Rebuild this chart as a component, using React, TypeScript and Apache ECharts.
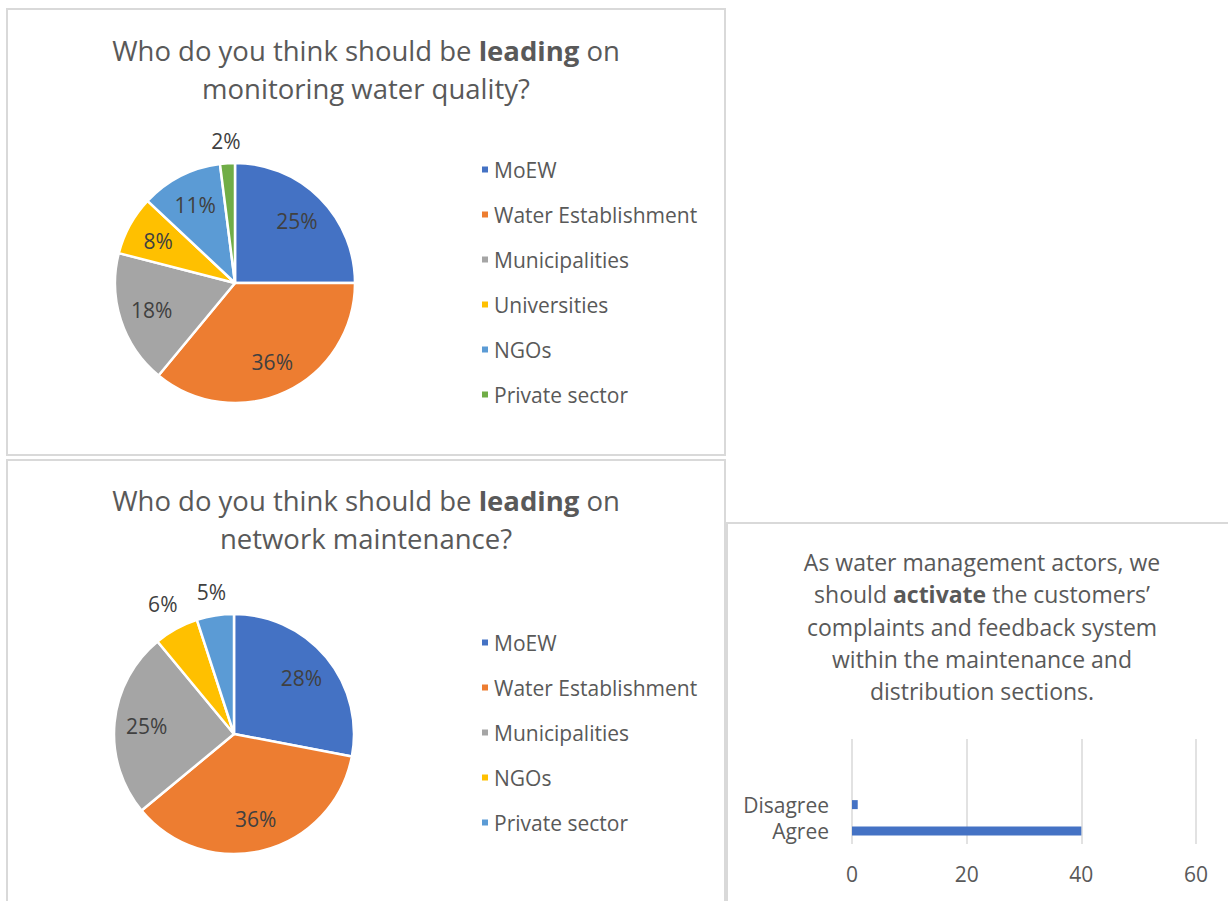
import React, { useEffect, useRef } from "react";
import * as echarts from "echarts";

const FONT = "'Open Sans', 'Noto Sans', sans-serif";
const TEXT = "#595959";
const LABEL = "#404040";

// Chart 1: leading on monitoring water quality
const qualityTitle = "Who do you think should be {b|leading} on\nmonitoring water quality?";
const qualityNames = ["MoEW", "Water Establishment", "Municipalities", "Universities", "NGOs", "Private sector"];
const qualityValues = [25, 36, 18, 8, 11, 2];
const qualityColors = ["#4472C4", "#ED7D31", "#A5A5A5", "#FFC000", "#5B9BD5", "#70AD47"];

// Chart 2: leading on network maintenance
const maintenanceTitle = "Who do you think should be {b|leading} on\nnetwork maintenance?";
const maintenanceNames = ["MoEW", "Water Establishment", "Municipalities", "NGOs", "Private sector"];
const maintenanceValues = [28, 36, 25, 6, 5];
const maintenanceColors = ["#4472C4", "#ED7D31", "#A5A5A5", "#FFC000", "#5B9BD5"];

// Chart 3: activate complaints system
const agreeTitle =
  "As water management actors, we\nshould {b|activate} the customers\u2019\ncomplaints and feedback system\nwithin the maintenance and\ndistribution sections.";
const agreeCategories = ["Agree", "Disagree", "", ""];
const agreeValues: (number | null)[] = [40, 1, null, null];
const agreeAxisMin = 0;
const agreeAxisMax = 60;
const agreeAxisInterval = 20;

function pieLabelLayout(values: number[], cx: number, cy: number, r: number) {
  const total = values.reduce((a, b) => a + b, 0);
  return (p: any) => {
    const i = p.dataIndex;
    let cum = 0;
    for (let j = 0; j < i; j++) cum += values[j];
    const mid = ((cum + values[i] / 2) / total) * Math.PI * 2;
    const s = Math.sin(mid);
    const c = Math.cos(mid);
    const outside = values[i] < 7;
    const d = outside ? r + 22 + 12 * Math.abs(s) : 0.73 * r;
    return { x: cx + d * s, y: cy - d * c, align: "center", verticalAlign: "middle" };
  };
}

function pieOption(
  title: string,
  titleTop: number,
  names: string[],
  values: number[],
  colors: string[],
  cx: number,
  cy: number,
  r: number,
  legendTop: number,
  extraGraphic: any[]
) {
  return {
    animation: false,
    title: {
      text: title,
      left: 366,
      top: titleTop,
      textAlign: "center",
      padding: 0,
      textStyle: {
        fontFamily: FONT,
        fontSize: 27.5,
        fontWeight: "normal",
        color: TEXT,
        lineHeight: 38,
        rich: {
          b: { fontFamily: FONT, fontSize: 27.5, fontWeight: "bold", color: TEXT, lineHeight: 38 },
        },
      },
    },
    legend: {
      orient: "vertical",
      left: 475,
      top: legendTop,
      icon: "rect",
      itemWidth: 8,
      itemHeight: 8,
      itemGap: 24,
      data: names,
      textStyle: { fontFamily: FONT, fontSize: 21, color: TEXT, lineHeight: 20 },
    },
    graphic: extraGraphic,
    series: [
      {
        type: "pie",
        center: [cx, cy],
        radius: r,
        startAngle: 90,
        clockwise: true,
        silent: true,
        itemStyle: { borderColor: "#ffffff", borderWidth: 2.5 },
        label: {
          show: true,
          position: "inside",
          formatter: (p: any) => p.value + "%",
          fontFamily: FONT,
          fontSize: 21,
          color: LABEL,
        },
        labelLine: { show: false },
        labelLayout: pieLabelLayout(values, cx, cy, r),
        data: names.map((n, i) => ({ name: n, value: values[i], itemStyle: { color: colors[i] } })),
      },
    ],
  };
}

const borderStyle = { fill: "none", stroke: "#d9d9d9", lineWidth: 2 };
const borders = [
  { type: "rect", silent: true, shape: { x: 7, y: 9, width: 718, height: 446 }, style: borderStyle },
  { type: "rect", silent: true, shape: { x: 7, y: 460, width: 718, height: 460 }, style: borderStyle },
  { type: "rect", silent: true, shape: { x: 727, y: 523, width: 510, height: 400 }, style: borderStyle },
];

const option1 = pieOption(qualityTitle, 31, qualityNames, qualityValues, qualityColors, 235, 283, 120, 154, borders);
const option2 = pieOption(maintenanceTitle, 481, maintenanceNames, maintenanceValues, maintenanceColors, 234, 734, 120, 627, []);

const option3 = {
  animation: false,
  title: {
    text: agreeTitle,
    left: 982,
    top: 546,
    textAlign: "center",
    padding: 0,
    textStyle: {
      fontFamily: FONT,
      fontSize: 23,
      fontWeight: "normal",
      color: TEXT,
      lineHeight: 32.3,
      rich: {
        b: { fontFamily: FONT, fontSize: 23, fontWeight: "bold", color: TEXT, lineHeight: 32.3 },
      },
    },
  },
  grid: { left: 852, right: 32, top: 739, bottom: 57, containLabel: false },
  xAxis: {
    type: "value",
    min: agreeAxisMin,
    max: agreeAxisMax,
    interval: agreeAxisInterval,
    axisLine: { show: false },
    axisTick: { show: false },
    splitLine: { show: true, lineStyle: { color: "#d9d9d9", width: 1.5 } },
    axisLabel: { fontFamily: FONT, fontSize: 21, color: TEXT, margin: 19 },
  },
  yAxis: {
    type: "category",
    data: agreeCategories,
    axisLine: { show: false },
    axisTick: { show: false },
    axisLabel: { fontFamily: FONT, fontSize: 21, color: TEXT, margin: 23, interval: 0, hideOverlap: false },
  },
  series: [
    {
      type: "bar",
      data: agreeValues,
      barWidth: 9,
      silent: true,
      itemStyle: { color: "#4472C4" },
    },
  ],
};

function Chart({ option }: { option: any }) {
  const ref = useRef<HTMLDivElement>(null);
  useEffect(() => {
    if (!ref.current) return;
    const chart = echarts.init(ref.current, null, { renderer: "svg" });
    chart.setOption(option);
    return () => chart.dispose();
  }, [option]);
  return <div ref={ref} style={{ position: "absolute", left: 0, top: 0, width: 1228, height: 901 }} />;
}

export default function App() {
  return (
    <div
      style={{
        position: "absolute",
        left: 0,
        top: 0,
        width: 1228,
        height: 901,
        background: "#ffffff",
        overflow: "hidden",
      }}
    >
      <Chart option={option1} />
      <Chart option={option2} />
      <Chart option={option3} />
    </div>
  );
}
